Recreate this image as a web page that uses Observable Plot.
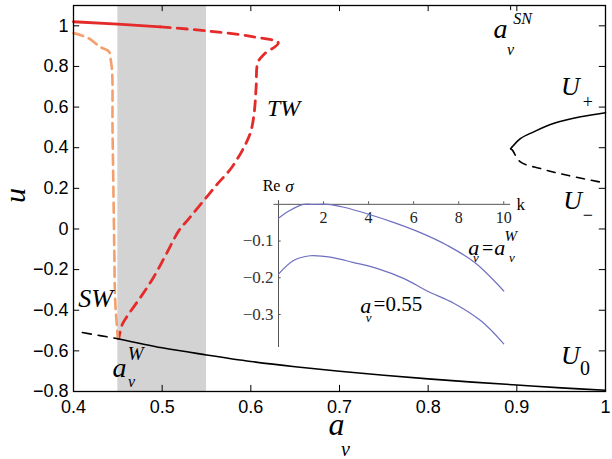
<!DOCTYPE html>
<html><head><meta charset="utf-8">
<script src="https://cdn.jsdelivr.net/npm/d3@7"></script>
<script src="https://cdn.jsdelivr.net/npm/@observablehq/plot@0.6"></script>
<style>
html,body{margin:0;padding:0;background:#fff;}
#wrap{position:relative;width:612px;height:459px;}
#inset{position:absolute;left:240px;top:175px;width:290px;height:180px;}
</style></head><body>
<div id="wrap"><div id="main"></div><div id="inset"></div></div>
<script>
// ---- main chart data ----
const xTicks = [0.4, 0.5, 0.6, 0.7, 0.8, 0.9, 1];
const yTicks = [-0.8, -0.6, -0.4, -0.2, 0, 0.2, 0.4, 0.6, 0.8, 1];
const bandRange = [0.45, 0.55];
const snMark = [0.893];

const twSolidA = [0.4, 0.45, 0.498];
const twSolidU = [1.02, 1.008, 0.995];
const twDashA = [0.498, 0.551, 0.603, 0.631, 0.615, 0.608, 0.606, 0.604, 0.6, 0.592, 0.578, 0.562, 0.545, 0.53, 0.519, 0.505, 0.49, 0.475, 0.462, 0.455, 0.451];
const twDashU = [0.995, 0.975, 0.946, 0.916, 0.86, 0.82, 0.7, 0.58, 0.48, 0.4, 0.3, 0.22, 0.13, 0.05, -0.007, -0.12, -0.24, -0.34, -0.42, -0.47, -0.54];

const swA = [0.4, 0.417, 0.430, 0.44, 0.442, 0.4436, 0.444, 0.445, 0.446, 0.447, 0.449, 0.45];
const swU = [0.964, 0.939, 0.896, 0.873, 0.832, 0.773, 0.5, 0.2, -0.1, -0.35, -0.48, -0.54];

const u0A = [0.45, 0.5, 0.55, 0.6, 0.65, 0.7, 0.75, 0.8, 0.85, 0.9, 0.95, 1];
const u0U = [-0.54, -0.585, -0.62, -0.652, -0.678, -0.70, -0.72, -0.738, -0.754, -0.768, -0.782, -0.794];
const u0DashA = [0.41, 0.43, 0.45];
const u0DashU = [-0.51, -0.525, -0.54];

const uPlusA = [0.893, 0.8947, 0.904, 0.919, 0.942, 0.972, 1.0];
const uPlusU = [0.395, 0.404, 0.445, 0.478, 0.52, 0.552, 0.572];
const uMinusA = [0.893, 0.895, 0.904, 0.927, 0.957, 1.0];
const uMinusU = [0.395, 0.388, 0.33, 0.297, 0.264, 0.226];

// ---- inset data ----
const insetKTicks = [2, 4, 6, 8, 10];
const insetSigmaTicks = [-0.1, -0.2, -0.3];
const kW = [0, 0.5, 1.1, 1.5, 2.2, 2.9, 4, 5.1, 6.3, 7.5, 8.7, 10];
const sigmaW = [-0.038, -0.017, 0, 0, 0, -0.008, -0.027, -0.049, -0.077, -0.112, -0.158, -0.236];
const k055 = [0, 0.67, 1.4, 2.4, 3.3, 4.4, 5.6, 6.6, 7.8, 9, 10];
const sigma055 = [-0.19, -0.153, -0.14, -0.145, -0.158, -0.175, -0.203, -0.236, -0.27, -0.318, -0.38];

// ---- helpers ----
const pts = (xs, ys) => xs.map((x, i) => ({x, y: ys[i]}));
const fmt = d => String(d).replace("-", "\u2212");
const serif = "'Liberation Serif', 'Times New Roman', serif";
const sans = "'Liberation Sans', Arial, Helvetica, sans-serif";
const lab = (t, x, y, size, extra = {}) =>
  Plot.text([{t, x, y}], {x: "x", y: "y", text: "t", fontSize: size, fontFamily: serif,
    fontStyle: "italic", textAnchor: "middle", lineAnchor: "middle", fill: "#000", ...extra});

const red = "#e52a2a", orange = "#f4a06e";

const main = Plot.plot({
  width: 612, height: 459,
  marginLeft: 73, marginRight: 7, marginTop: 5, marginBottom: 68,
  x: {domain: [0.4, 1]},
  y: {domain: [-0.8, 1.1]},
  style: {fontFamily: sans, fontSize: "18px", color: "#000", background: "#fff"},
  marks: [
    Plot.rect([bandRange], {x1: d => d[0], x2: d => d[1], y1: -0.8, y2: 1.1, fill: "#d3d3d3"}),
    Plot.axisX({ticks: xTicks, anchor: "bottom", tickSize: 0, tickPadding: 9, tickFormat: fmt, label: null, fontSize: 18}),
    Plot.axisY({ticks: yTicks, anchor: "left", tickSize: 0, tickPadding: 5, tickFormat: fmt, label: null, fontSize: 18}),
    Plot.ruleX(xTicks, {x: d => d, y1: -0.8, y2: -0.77, stroke: "#000"}),
    Plot.ruleX(xTicks, {x: d => d, y1: 1.1, y2: 1.07, stroke: "#000"}),
    Plot.ruleX(snMark, {x: d => d, y1: 1.1, y2: 1.075, stroke: "#000"}),
    Plot.ruleY(yTicks, {y: d => d, x1: 0.4, x2: 0.407, stroke: "#000"}),
    Plot.ruleY(yTicks, {y: d => d, x1: 1, x2: 0.993, stroke: "#000"}),
    Plot.line(pts(twSolidA, twSolidU), {x: "x", y: "y", stroke: red, strokeWidth: 2.8}),
    Plot.line(pts(twDashA, twDashU), {x: "x", y: "y", stroke: red, strokeWidth: 2.8, strokeDasharray: "10,7", curve: "catmull-rom"}),
    Plot.line(pts(swA, swU), {x: "x", y: "y", stroke: orange, strokeWidth: 2.6, strokeDasharray: "10,6", curve: "catmull-rom"}),
    Plot.line(pts(u0A, u0U), {x: "x", y: "y", stroke: "#000", strokeWidth: 1.6, curve: "catmull-rom"}),
    Plot.line(pts(u0DashA, u0DashU), {x: "x", y: "y", stroke: "#000", strokeWidth: 1.6, strokeDasharray: "9,7"}),
    Plot.line(pts(uPlusA, uPlusU), {x: "x", y: "y", stroke: "#000", strokeWidth: 1.6, curve: "catmull-rom"}),
    Plot.line(pts(uMinusA, uMinusU), {x: "x", y: "y", stroke: "#000", strokeWidth: 1.6, strokeDasharray: "8,7", curve: "catmull-rom"}),
    Plot.frame({stroke: "#000", strokeWidth: 1.3}),
    // annotations
    lab("TW", 0.637, 0.595, 24),
    lab("SW", 0.425, -0.343, 26),
    lab("U", 0.9605, 0.699, 26),
    lab("+", 0.98, 0.625, 18, {fontStyle: "normal"}),
    lab("U", 0.9628, 0.141, 26),
    lab("\u2212", 0.98, 0.067, 18, {fontStyle: "normal"}),
    lab("U", 0.9605, -0.625, 26),
    lab("0", 0.977, -0.689, 20, {fontStyle: "normal"}),
    lab("a", 0.8816, 0.985, 28),
    lab("SN", 0.9064, 1.035, 16),
    lab("v", 0.8928, 0.881, 16),
    lab("a", 0.4519, -0.684, 28),
    lab("W", 0.470, -0.615, 19),
    lab("v", 0.4654, -0.753, 16),
    // axis titles
    lab("a", 0.6966, -0.965, 32),
    lab("v", 0.7067, -1.084, 20),
    lab("u", 0.3346, 0.165, 30, {rotate: -90})
  ]
});
document.getElementById("main").appendChild(main);

const blue = "#6f6fc0";
const inset = Plot.plot({
  width: 290, height: 180,
  marginLeft: 38, marginRight: 20, marginTop: 27, marginBottom: 8,
  x: {domain: [0, 10.3], axis: null},
  y: {domain: [-0.39, 0.005], axis: null},
  style: {background: "none", overflow: "visible", fontFamily: serif, fontSize: "16px"},
  marks: [
    Plot.ruleY([0], {y: d => d, x1: -0.2, x2: 10.3, stroke: "#555"}),
    Plot.ruleX([0], {x: d => d, y1: -0.39, y2: 0.01, stroke: "#555"}),
    Plot.ruleX(insetKTicks, {x: d => d, y1: 0, y2: 0.007, stroke: "#555"}),
    Plot.ruleY(insetSigmaTicks, {y: d => d, x1: 0, x2: 0.12, stroke: "#555"}),
    ...insetKTicks.map(k => lab(String(k), k, 0, 16, {fontStyle: "normal", dy: 14, fill: "#222"})),
    ...insetSigmaTicks.map(s => lab(fmt(s), 0, s, 17, {fontStyle: "normal", textAnchor: "end", dx: -5, fill: "#333"})),
    Plot.line(pts(kW, sigmaW), {x: "x", y: "y", stroke: blue, strokeWidth: 1.2, curve: "catmull-rom"}),
    Plot.line(pts(k055, sigma055), {x: "x", y: "y", stroke: blue, strokeWidth: 1.2, curve: "catmull-rom"}),
    lab("Re", -0.31, 0.049, 16, {fontStyle: "normal"}),
    lab("\u03c3", 0.49, 0.049, 17),
    lab("k", 10.76, 0.0, 17, {fontStyle: "normal"}),
    lab("a", 8.67, -0.12, 22),
    lab("v", 8.76, -0.147, 13),
    lab("=", 9.29, -0.12, 20, {fontStyle: "normal"}),
    lab("a", 9.82, -0.12, 22),
    lab("W", 10.31, -0.087, 15),
    lab("v", 10.36, -0.147, 13),
    lab("a", 3.87, -0.276, 22),
    lab("v", 4.0, -0.308, 13),
    lab("=0.55", 4.22, -0.272, 21, {fontStyle: "normal", textAnchor: "start"})
  ]
});
document.getElementById("inset").appendChild(inset);
</script>
</body></html>
